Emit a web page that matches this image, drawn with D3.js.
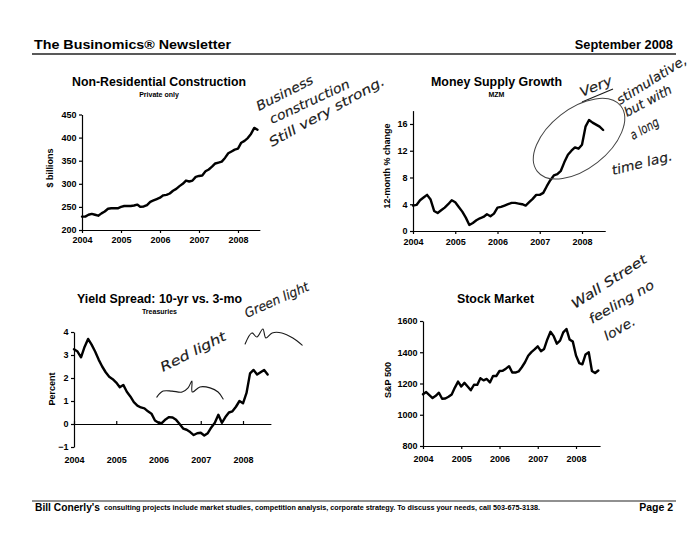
<!DOCTYPE html>
<html>
<head>
<meta charset="utf-8">
<script src="https://cdn.jsdelivr.net/npm/d3@7"></script>
<style>
  html, body { margin: 0; padding: 0; background: #fff; }
  svg { display: block; }
</style>
</head>
<body>
<svg id="chart" width="700" height="541"></svg>
<script>
// ---------------- DATA ----------------
const years = [2004, 2005, 2006, 2007, 2008];
const startYear = 2004; // monthly series beginning January 2004

const constructionTicks = [200, 250, 300, 350, 400, 450];
const mzmTicks = [0, 4, 8, 12, 16];
const yieldTicks = [-1, 0, 1, 2, 3, 4];
const sp500Ticks = [800, 1000, 1200, 1400, 1600];

// Non-residential construction, private, $ billions (Jan 2004 - Jul 2008)
const constructionValues = [
  229, 229, 233, 235, 233, 231, 236, 240, 246, 247, 247, 247,
  250, 252, 252, 252, 253, 255, 250, 251, 254, 261, 264, 267,
  270, 275, 276, 279, 285, 289, 295, 300, 307, 305, 307, 315,
  317, 318, 327, 331, 337, 344, 346, 348, 356, 366, 370, 374,
  376, 389, 393, 399, 408, 421, 417
];

// MZM, 12-month % change (Jan 2004 - Jul 2008)
const mzmValues = [
  3.8, 3.9, 4.6, 5.0, 5.4, 4.7, 3.0, 2.7, 3.1, 3.5, 4.0, 4.6,
  4.3, 3.6, 2.9, 2.0, 0.9, 1.2, 1.6, 1.9, 2.1, 2.5, 2.2, 2.6,
  3.5, 3.6, 3.8, 4.0, 4.2, 4.2, 4.1, 4.0, 3.8, 4.3, 4.8, 5.4,
  5.4, 5.7, 6.7, 7.6, 8.3, 8.5, 9.0, 10.3, 11.4, 12.0, 12.5, 12.3,
  12.9, 15.6, 16.6, 16.2, 15.9, 15.6, 15.1
];

// Yield spread 10-yr minus 3-mo Treasuries, percent (Jan 2004 - Aug 2008)
const yieldValues = [
  3.25, 3.15, 2.9, 3.35, 3.7, 3.45, 3.15, 2.8, 2.5, 2.25, 2.05, 1.95,
  1.8, 1.6, 1.7, 1.4, 1.2, 0.95, 0.8, 0.72, 0.68, 0.55, 0.45, 0.15,
  0.05, 0.05, 0.2, 0.3, 0.28, 0.18, 0.0, -0.2, -0.25, -0.35, -0.48, -0.4,
  -0.38, -0.5, -0.4, -0.15, 0.05, 0.4, 0.05, 0.3, 0.5, 0.55, 0.75, 1.0,
  0.9, 1.35, 2.2, 2.35, 2.15, 2.25, 2.35, 2.15
];

// S&P 500 (Jan 2004 - Aug 2008)
const sp500Values = [
  1131, 1145, 1126, 1107, 1121, 1141, 1102, 1104, 1115, 1130, 1174, 1212,
  1181, 1204, 1181, 1157, 1192, 1191, 1234, 1220, 1229, 1207, 1249, 1248,
  1280, 1281, 1295, 1311, 1270, 1270, 1277, 1304, 1336, 1378, 1401, 1418,
  1438, 1407, 1421, 1482, 1531, 1503, 1455, 1474, 1527, 1549, 1481, 1468,
  1379, 1331, 1323, 1386, 1400, 1280, 1267, 1283
];

// Hand-drawn annotation scribbles, in the yield chart's own data space (year, value)
const redLightScribble = [
  [2005.96, 1.17], [2006.11, 1.43], [2006.32, 1.43], [2006.56, 1.39], [2006.70, 1.57],
  [2006.79, 1.87], [2006.80, 1.39], [2006.98, 1.61], [2007.22, 1.57], [2007.41, 1.39], [2007.53, 1.09]
];
const greenLightScribble = [
  [2008.05, 3.48], [2008.21, 3.96], [2008.33, 3.78], [2008.47, 4.13], [2008.54, 3.74],
  [2008.69, 3.96], [2008.92, 3.96], [2009.18, 3.74], [2009.40, 3.43]
];

// ---------------- DRAWING ----------------
const FONT = '"Liberation Sans", Arial, Helvetica, sans-serif';
const HAND = '"DejaVu Sans", sans-serif';
const svg = d3.select("#chart");

svg.append("rect").attr("width", 700).attr("height", 541).attr("fill", "#fff");

function txt(str, x, y, size, opts = {}) {
  const t = svg.append("text")
    .attr("x", x).attr("y", y)
    .attr("font-family", FONT)
    .attr("font-size", size)
    .attr("font-weight", opts.weight || "bold")
    .attr("text-anchor", opts.anchor || "start")
    .attr("fill", "#000")
    .text(str);
  if (opts.len) t.attr("textLength", opts.len).attr("lengthAdjust", "spacingAndGlyphs");
  return t;
}

// Header
txt("The Businomics\u00AE Newsletter", 34, 49, 12.8, { len: 197 });
txt("September 2008", 673, 49, 12.8, { anchor: "end" });
svg.append("line").attr("x1", 32).attr("x2", 676).attr("y1", 54).attr("y2", 54)
  .attr("stroke", "#222").attr("stroke-width", 1.4);

// Footer
svg.append("line").attr("x1", 32).attr("x2", 676).attr("y1", 501).attr("y2", 501)
  .attr("stroke", "#222").attr("stroke-width", 1.2);
txt("Bill Conerly's", 35, 510.5, 10.5, { len: 65 });
txt("consulting projects include market studies, competition analysis, corporate strategy.  To discuss your needs, call 503-675-3138.",
  104, 510, 6.6, { len: 436 });
txt("Page 2", 673, 510.5, 10.5, { anchor: "end" });

function styleAxis(a) {
  a.selectAll(".domain").attr("stroke", "#000").attr("stroke-width", 1.2);
  a.selectAll(".tick line").attr("stroke", "#000").attr("stroke-width", 1.2);
  a.selectAll(".tick text").attr("font-family", FONT).attr("font-weight", "bold")
    .attr("font-size", 9).attr("fill", "#000");
}

function panel(o) {
  const x = d3.scaleLinear().domain([2004, 2008]).range([o.x2004, o.x2008]);
  const y = d3.scaleLinear().domain(o.yDomain).range(o.yRange);
  const g = svg.append("g");

  // titles
  g.append("text").attr("x", o.cx).attr("y", o.titleY)
    .attr("text-anchor", "middle").attr("font-family", FONT).attr("font-weight", "bold")
    .attr("font-size", 12.5).attr("textLength", o.titleLen).attr("lengthAdjust", "spacingAndGlyphs")
    .text(o.title);
  if (o.subtitle) {
    g.append("text").attr("x", o.cx).attr("y", o.titleY + 11)
      .attr("text-anchor", "middle").attr("font-family", FONT).attr("font-weight", "bold")
      .attr("font-size", 7).text(o.subtitle);
  }

  // y axis
  const ya = g.append("g").attr("transform", `translate(${o.x2004},0)`)
    .call(d3.axisLeft(y).tickValues(o.yTicks).tickSize(3).tickPadding(2.5)
      .tickFormat(d3.format("d")).tickSizeOuter(0));

  // x axis
  const xEndScale = x.copy().domain([2004, o.xEnd]).range([x(2004), x(o.xEnd)]);
  const axisYpx = y(o.xAxisAt);
  let xa;
  if (o.separateLabels) {
    xa = g.append("g").attr("transform", `translate(0,${axisYpx})`)
      .call(d3.axisTop(xEndScale).tickValues(years).tickSize(3).tickFormat("").tickSizeOuter(0));
    const xl = g.append("g").attr("transform", `translate(0,${y(o.yDomain[0])})`)
      .call(d3.axisBottom(x).tickValues(years).tickSize(0).tickPadding(o.labelPad).tickFormat(d3.format("d")));
    xl.select(".domain").remove();
    styleAxis(xl);
  } else {
    xa = g.append("g").attr("transform", `translate(0,${axisYpx})`)
      .call(d3.axisBottom(xEndScale).tickValues(years).tickSize(3).tickPadding(o.labelPad)
        .tickFormat(d3.format("d")).tickSizeOuter(0));
  }
  styleAxis(ya);
  styleAxis(xa);

  // y-axis title
  g.append("text")
    .attr("transform", `translate(${o.yTitleX},${o.yTitleY}) rotate(-90)`)
    .attr("text-anchor", "middle").attr("font-family", FONT).attr("font-weight", "bold")
    .attr("font-size", 9)
    .text(o.yTitle);

  // data line
  const line = d3.line()
    .x((d, i) => x(startYear + i / 12))
    .y(d => y(d));
  g.append("path").datum(o.values)
    .attr("d", line)
    .attr("fill", "none").attr("stroke", "#000")
    .attr("stroke-width", 2.4).attr("stroke-linejoin", "round").attr("stroke-linecap", "round");

  return { x, y, g };
}

// Chart 1: Non-Residential Construction
panel({
  title: "Non-Residential Construction", subtitle: "Private only", cx: 159, titleY: 85.5, titleLen: 174,
  x2004: 82, x2008: 238, xEnd: 2008.56,
  yDomain: [200, 450], yRange: [230, 114.5], yTicks: constructionTicks, xAxisAt: 200,
  labelPad: 4, yTitle: "$ billions", yTitleX: 53, yTitleY: 168,
  values: constructionValues
});

// Chart 2: Money Supply Growth
const c2 = panel({
  title: "Money Supply Growth", subtitle: "MZM", cx: 496.5, titleY: 85.5, titleLen: 131,
  x2004: 413, x2008: 582, xEnd: 2008.55,
  yDomain: [0, 18], yRange: [231, 110.6], yTicks: mzmTicks, xAxisAt: 0,
  labelPad: 5, yTitle: "12-month % change", yTitleX: 389.5, yTitleY: 166,
  values: mzmValues
});

// Chart 3: Yield Spread
const c3 = panel({
  title: "Yield Spread: 10-yr vs. 3-mo", subtitle: "Treasuries", cx: 159.5, titleY: 303, titleLen: 165,
  x2004: 74, x2008: 243, xEnd: 2008.66,
  yDomain: [-1, 4], yRange: [447, 332], yTicks: yieldTicks, xAxisAt: 0,
  separateLabels: true, labelPad: 10,
  yTitle: "Percent", yTitleX: 55, yTitleY: 389,
  values: yieldValues
});

// Chart 4: Stock Market
panel({
  title: "Stock Market", subtitle: null, cx: 495.5, titleY: 303, titleLen: 77,
  x2004: 423, x2008: 576, xEnd: 2008.63,
  yDomain: [800, 1600], yRange: [446, 321], yTicks: sp500Ticks, xAxisAt: 800,
  labelPad: 7, yTitle: "S&P 500", yTitleX: 391, yTitleY: 380,
  values: sp500Values
});

// ---------------- HAND-WRITTEN NOTES ----------------
const ink = "#1a1a1a";
function hand(str, x, y, angle, len, size = 13) {
  svg.append("text")
    .attr("transform", `translate(${x},${y}) rotate(${angle})`)
    .attr("font-family", HAND).attr("font-weight", 200).attr("font-style", "italic")
    .attr("font-size", size).attr("fill", ink)
    .attr("stroke", ink).attr("stroke-width", 0.15)
    .attr("textLength", len).attr("lengthAdjust", "spacingAndGlyphs")
    .text(str);
}
hand("Business", 259, 111, -27, 62);
hand("construction", 272, 124, -25, 87);
hand("Still very strong.", 272, 147, -29, 130);

hand("Very", 582, 97, -23, 34);
svg.append("line").attr("x1", 582).attr("y1", 102).attr("x2", 613).attr("y2", 89)
  .attr("stroke", ink).attr("stroke-width", 1.1);
hand("stimulative,", 620, 105, -32, 80);
hand("but with", 627, 117, -28, 52);
hand("a long", 633, 140, -29, 31);
hand("time lag.", 613, 175, -14, 62);

hand("Green light", 247, 318, -24, 69);
hand("Red light", 163, 372, -27, 72);

hand("Wall Street", 575, 309, -33, 87);
hand("feeling no", 592, 324, -30, 73);
hand("love.", 607, 341, -30, 34);

// ellipse around the MZM surge (centred in data space)
const ecx = c2.x(2007.93), ecy = c2.y(13.8);
svg.append("ellipse").attr("cx", 0).attr("cy", 0).attr("rx", 53).attr("ry", 30)
  .attr("transform", `translate(${ecx},${ecy}) rotate(-38)`)
  .attr("fill", "none").attr("stroke", "#444").attr("stroke-width", 1);

// scribbles in the yield chart
const scribLine = d3.line().x(d => c3.x(d[0])).y(d => c3.y(d[1])).curve(d3.curveCatmullRom);
[redLightScribble, greenLightScribble].forEach(s => {
  svg.append("path").datum(s).attr("d", scribLine)
    .attr("fill", "none").attr("stroke", ink).attr("stroke-width", 1.1)
    .attr("stroke-linecap", "round").attr("stroke-linejoin", "round");
});
</script>
</body>
</html>
